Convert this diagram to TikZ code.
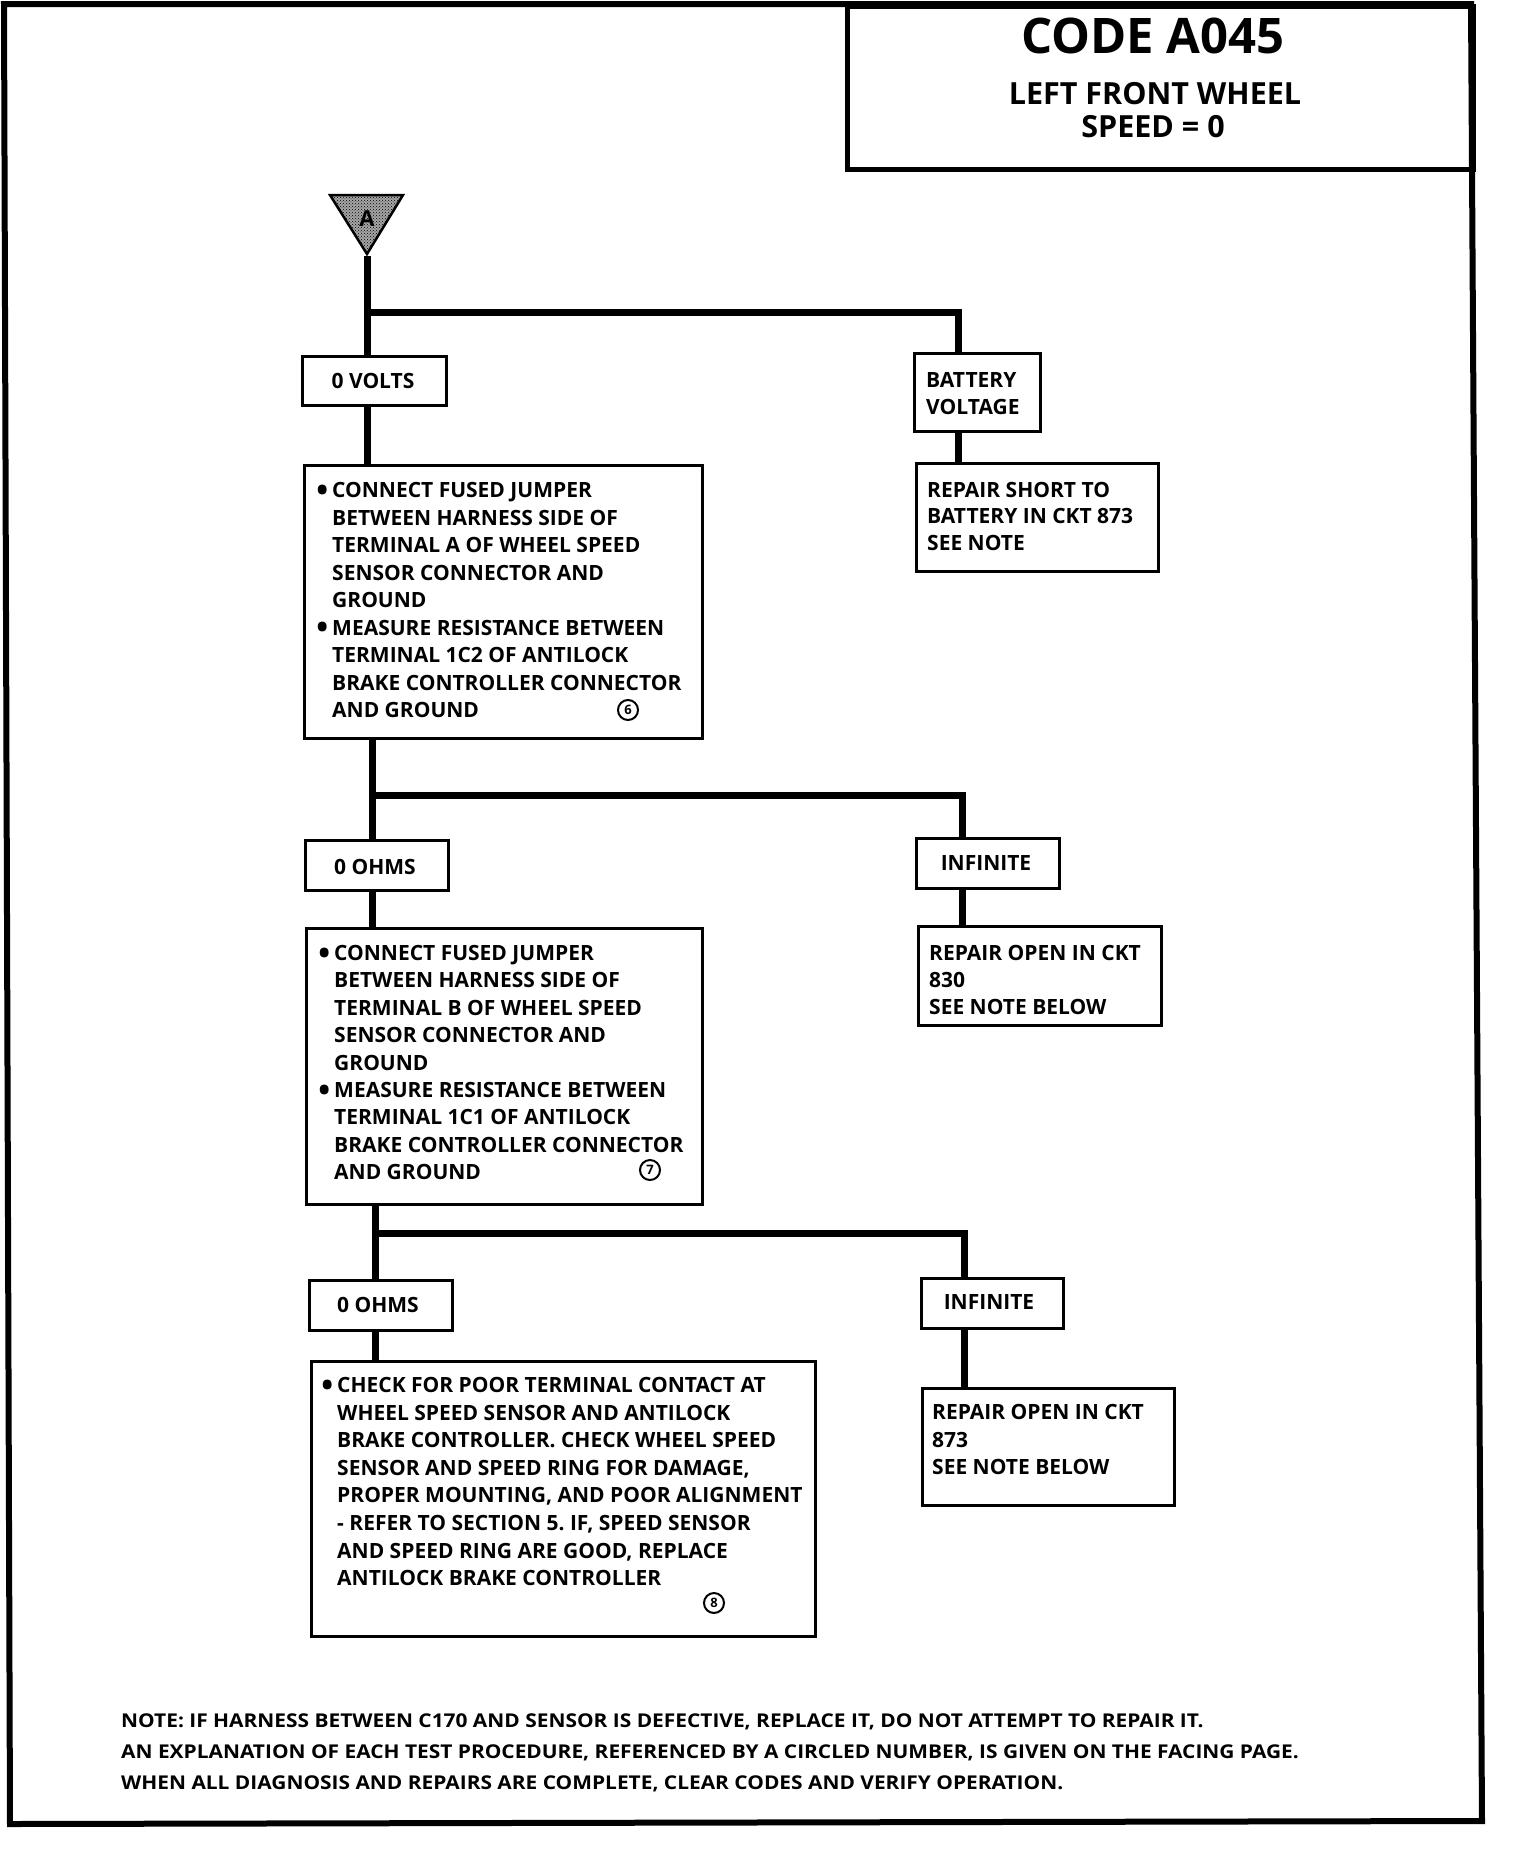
\documentclass[tikz,border=0pt]{standalone}
\usepackage{fontspec}
\setmainfont{Open Sans}
\newfontfamily\notefont{Open Sans}[FakeStretch=1.1]
\usetikzlibrary{patterns}
\newcommand{\bul}{\leavevmode\llap{\raisebox{-3.5pt}{\scalebox{1.5}{\textbullet}}\hspace{4pt}}}
\begin{document}
\frenchspacing
\begin{tikzpicture}[x=1pt,y=-1pt,
  box/.style={draw, line width=3pt, anchor=north west, inner sep=0pt},
  conn/.style={line width=7pt},
  body/.style={inner sep=0pt, anchor=base west, font=\bfseries\fontsize{21}{27.5}\selectfont},
  lbl/.style={inner sep=0pt, anchor=base, font=\bfseries\fontsize{21}{27.5}\selectfont},
  circnum/.style={draw, circle, line width=2pt, inner sep=0pt, minimum size=20pt, font=\bfseries\fontsize{13}{13}\selectfont},
]
\useasboundingbox (0,0) rectangle (1520,1858);
\fill[white] (0,0) rectangle (1520,1858);

% title box
\node[box, line width=4.5pt, minimum width=626pt, minimum height=163pt] (title) at (845,4) {};
\node[inner sep=0pt, anchor=base, font=\bfseries\fontsize{49}{49}\selectfont] (code) at (1153,53) {CODE A045};
\node[inner sep=0pt, anchor=base, font=\bfseries\fontsize{30.5}{33}\selectfont] (sub1) at (1155,104) {LEFT FRONT WHEEL};
\node[inner sep=0pt, anchor=base, font=\bfseries\fontsize{30.5}{33}\selectfont] (sub2) at (1153,137) {SPEED = 0};

% outer border
\draw[line width=6pt, line join=miter] (4,4) -- (1471,4) -- (1482,1821) -- (10,1824) -- cycle;

% entry triangle
\fill[black!35] (330,195) -- (403,195) -- (367,254) -- cycle;
\draw[line width=2.5pt, pattern=crosshatch dots, pattern color=black, line join=miter] (330,195) -- (403,195) -- (367,254) -- cycle;
\node[inner sep=0pt, anchor=base, font=\bfseries\fontsize{22}{22}\selectfont] (entry) at (367,226) {A};
\coordinate (apex) at (367,256);

% boxes
\node[box, minimum width=144pt, minimum height=49pt] (volts) at (301,355) {};
\node[box, minimum width=126pt, minimum height=78pt] (batt) at (913,352) {};
\node[box, minimum width=242pt, minimum height=108pt] (short) at (915,462) {};
\node[box, minimum width=398pt, minimum height=273pt] (box1) at (303,464) {};
\node[box, minimum width=143pt, minimum height=50pt] (ohms1) at (304,839) {};
\node[box, minimum width=143pt, minimum height=50pt] (inf1) at (915,837) {};
\node[box, minimum width=243pt, minimum height=99pt] (open830) at (917,925) {};
\node[box, minimum width=396pt, minimum height=276pt] (box2) at (305,927) {};
\node[box, minimum width=143pt, minimum height=50pt] (ohms2) at (308,1279) {};
\node[box, minimum width=142pt, minimum height=50pt] (inf2) at (920,1277) {};
\node[box, minimum width=252pt, minimum height=117pt] (open873) at (921,1387) {};
\node[box, minimum width=504pt, minimum height=275pt] (box3) at (310,1360) {};

% texts
\node[lbl] (voltst) at (373,388) {0 VOLTS};
\node[body] (battt) at (926,387) {\parbox[t]{200pt}{\raggedright BATTERY\\VOLTAGE}};
\node[body] (shortt) at (927,497) {\parbox[t]{300pt}{\raggedright \baselineskip=26.5pt REPAIR SHORT TO\\BATTERY IN CKT 873\\SEE NOTE}};
\node[body] (box1t) at (332,497.5) {\parbox[t]{500pt}{\raggedright
\bul CONNECT FUSED JUMPER\\
BETWEEN HARNESS SIDE OF\\
TERMINAL A OF WHEEL SPEED\\
SENSOR CONNECTOR AND\\
GROUND\\
\bul MEASURE RESISTANCE BETWEEN\\
TERMINAL 1C2 OF ANTILOCK\\
BRAKE CONTROLLER CONNECTOR\\
AND GROUND}};
\node[circnum] (c6) at (628,710) {6};

\node[lbl] (ohms1t) at (375,874) {0 OHMS};
\node[lbl] (inf1t) at (986,870) {INFINITE};
\node[body] (open830t) at (929,960.5) {\parbox[t]{300pt}{\raggedright \baselineskip=27pt REPAIR OPEN IN CKT\\830\\SEE NOTE BELOW}};
\node[body] (box2t) at (334,960.5) {\parbox[t]{500pt}{\raggedright \baselineskip=27.4pt
\bul CONNECT FUSED JUMPER\\
BETWEEN HARNESS SIDE OF\\
TERMINAL B OF WHEEL SPEED\\
SENSOR CONNECTOR AND\\
GROUND\\
\bul MEASURE RESISTANCE BETWEEN\\
TERMINAL 1C1 OF ANTILOCK\\
BRAKE CONTROLLER CONNECTOR\\
AND GROUND}};
\node[circnum] (c7) at (650,1170) {7};

\node[lbl] (ohms2t) at (378,1312) {0 OHMS};
\node[lbl] (inf2t) at (989,1309) {INFINITE};
\node[body] (open873t) at (932,1419.5) {\parbox[t]{300pt}{\raggedright REPAIR OPEN IN CKT\\873\\SEE NOTE BELOW}};
\node[body] (box3t) at (337,1392.5) {\parbox[t]{600pt}{\raggedright \baselineskip=27.6pt
\bul CHECK FOR POOR TERMINAL CONTACT AT\\
WHEEL SPEED SENSOR AND ANTILOCK\\
BRAKE CONTROLLER. CHECK WHEEL SPEED\\
SENSOR AND SPEED RING FOR DAMAGE,\\
PROPER MOUNTING, AND POOR ALIGNMENT\\
- REFER TO SECTION 5. IF, SPEED SENSOR\\
AND SPEED RING ARE GOOD, REPLACE\\
ANTILOCK BRAKE CONTROLLER}};
\node[circnum] (c8) at (714,1603) {8};

% note
\node[inner sep=0pt, anchor=base west, font=\notefont\bfseries\fontsize{19}{31}\selectfont] (note) at (121,1727) {\parbox[t]{1400pt}{\raggedright
NOTE: IF HARNESS BETWEEN C170 AND SENSOR IS DEFECTIVE, REPLACE IT, DO NOT ATTEMPT TO REPAIR IT.\\
AN EXPLANATION OF EACH TEST PROCEDURE, REFERENCED BY A CIRCLED NUMBER, IS GIVEN ON THE FACING PAGE.\\
WHEN ALL DIAGNOSIS AND REPAIRS ARE COMPLETE, CLEAR CODES AND VERIFY OPERATION.}};

% connectors
\coordinate (t1) at (367,312); \coordinate (r1) at (958,312);
\coordinate (t2) at (372,795); \coordinate (r2) at (962,795);
\coordinate (t3) at (375,1233); \coordinate (r3) at (964,1233);

\draw[conn] (apex) -- (apex |- volts.north);
\draw[conn] (t1 |- volts.south) -- (t1 |- box1.north);
\draw[conn, line join=miter] (t1) -- (r1) -- (r1 |- batt.north);
\draw[conn] (r1 |- batt.south) -- (r1 |- short.north);

\draw[conn] (t2 |- box1.south) -- (t2 |- ohms1.north);
\draw[conn, line join=miter] (t2) -- (r2) -- (r2 |- inf1.north);
\draw[conn] (r2 |- inf1.south) -- (r2 |- open830.north);
\draw[conn] (t2 |- ohms1.south) -- (t2 |- box2.north);

\draw[conn] (t3 |- box2.south) -- (t3 |- ohms2.north);
\draw[conn, line join=miter] (t3) -- (r3) -- (r3 |- inf2.north);
\draw[conn] (r3 |- inf2.south) -- (r3 |- open873.north);
\draw[conn] (t3 |- ohms2.south) -- (t3 |- box3.north);
\end{tikzpicture}
\end{document}
